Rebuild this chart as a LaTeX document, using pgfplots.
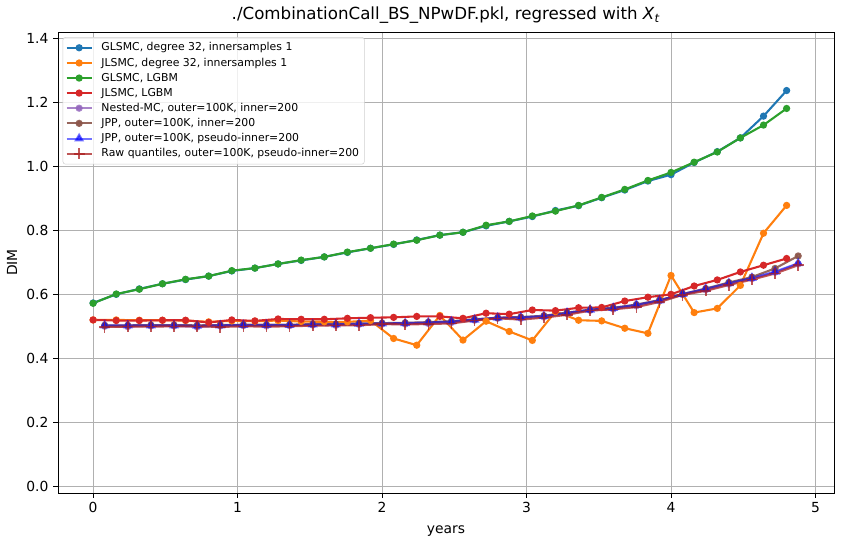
\documentclass[border=0pt]{standalone}
\usepackage{pgfplots}
\pgfplotsset{compat=1.18}
\usepackage{pgfplotstable}
\usepackage{fontspec}
\setmainfont{DejaVu Sans}
\definecolor{c0}{HTML}{1F77B4}
\definecolor{c1}{HTML}{FF7F0E}
\definecolor{c2}{HTML}{2CA02C}
\definecolor{c3}{HTML}{D62728}
\definecolor{c4}{HTML}{9467BD}
\definecolor{c5}{HTML}{8C564B}
\definecolor{gridc}{HTML}{B0B0B0}

\pgfplotstableread{
x y
0.00 0.572
0.16 0.599
0.32 0.616
0.48 0.632
0.64 0.645
0.80 0.656
0.96 0.672
1.12 0.681
1.28 0.694
1.44 0.705
1.60 0.716
1.76 0.730
1.92 0.743
2.08 0.755
2.24 0.769
2.40 0.784
2.56 0.793
2.72 0.813
2.88 0.827
3.04 0.842
3.20 0.861
3.36 0.876
3.52 0.901
3.68 0.925
3.84 0.953
4.00 0.973
4.16 1.011
4.32 1.045
4.48 1.088
4.64 1.156
4.80 1.236
}\glsmcpoly

\pgfplotstableread{
x y
0.00 0.571
0.16 0.600
0.32 0.615
0.48 0.632
0.64 0.646
0.80 0.656
0.96 0.673
1.12 0.681
1.28 0.694
1.44 0.706
1.60 0.716
1.76 0.731
1.92 0.743
2.08 0.756
2.24 0.768
2.40 0.784
2.56 0.793
2.72 0.815
2.88 0.827
3.04 0.844
3.20 0.859
3.36 0.877
3.52 0.902
3.68 0.927
3.84 0.955
4.00 0.980
4.16 1.012
4.32 1.044
4.48 1.088
4.64 1.128
4.80 1.180
}\glsmclgbm

\pgfplotstableread{
x y
0.00 0.519
0.16 0.519
0.32 0.518
0.48 0.518
0.64 0.517
0.80 0.513
0.96 0.516
1.12 0.515
1.28 0.517
1.44 0.514
1.60 0.513
1.76 0.513
1.92 0.517
2.08 0.461
2.24 0.440
2.40 0.533
2.56 0.456
2.72 0.515
2.88 0.483
3.04 0.455
3.20 0.545
3.36 0.518
3.52 0.516
3.68 0.493
3.84 0.477
4.00 0.658
4.16 0.542
4.32 0.555
4.48 0.627
4.64 0.790
4.80 0.877
}\jlsmcpoly

\pgfplotstableread{
x y
0.00 0.519
0.16 0.517
0.32 0.517
0.48 0.518
0.64 0.518
0.80 0.511
0.96 0.519
1.12 0.516
1.28 0.522
1.44 0.521
1.60 0.521
1.76 0.524
1.92 0.526
2.08 0.527
2.24 0.530
2.40 0.530
2.56 0.524
2.72 0.540
2.88 0.537
3.04 0.550
3.20 0.548
3.36 0.557
3.52 0.558
3.68 0.578
3.84 0.590
4.00 0.599
4.16 0.625
4.32 0.644
4.48 0.669
4.64 0.690
4.80 0.711
}\jlsmclgbm

\pgfplotstableread{
x y
0.08 0.499
0.24 0.498
0.40 0.500
0.56 0.500
0.72 0.497
0.88 0.500
1.04 0.501
1.20 0.500
1.36 0.501
1.52 0.503
1.68 0.502
1.84 0.505
2.00 0.506
2.16 0.506
2.32 0.508
2.48 0.511
2.64 0.518
2.80 0.524
2.96 0.524
3.12 0.528
3.28 0.539
3.44 0.549
3.60 0.553
3.76 0.563
3.92 0.578
4.08 0.598
4.24 0.613
4.40 0.631
4.56 0.648
4.72 0.668
4.88 0.694
}\nested

\pgfplotstableread{
x y
0.08 0.502
0.24 0.502
0.40 0.503
0.56 0.503
0.72 0.502
0.88 0.503
1.04 0.504
1.20 0.504
1.36 0.504
1.52 0.506
1.68 0.506
1.84 0.508
2.00 0.509
2.16 0.510
2.32 0.512
2.48 0.515
2.64 0.521
2.80 0.526
2.96 0.528
3.12 0.532
3.28 0.542
3.44 0.551
3.60 0.557
3.76 0.567
3.92 0.581
4.08 0.600
4.24 0.617
4.40 0.636
4.56 0.653
4.72 0.680
4.88 0.719
}\jpp

\pgfplotstableread{
x y
0.08 0.502
0.24 0.502
0.40 0.502
0.56 0.502
0.72 0.501
0.88 0.502
1.04 0.503
1.20 0.503
1.36 0.503
1.52 0.505
1.68 0.505
1.84 0.507
2.00 0.508
2.16 0.509
2.32 0.511
2.48 0.514
2.64 0.520
2.80 0.526
2.96 0.527
3.12 0.531
3.28 0.541
3.44 0.551
3.60 0.556
3.76 0.566
3.92 0.580
4.08 0.600
4.24 0.616
4.40 0.634
4.56 0.650
4.72 0.670
4.88 0.696
}\jpppseudo

\pgfplotstableread{
x y
0.08 0.497
0.24 0.498
0.40 0.498
0.56 0.499
0.72 0.499
0.88 0.497
1.04 0.499
1.20 0.498
1.36 0.499
1.52 0.501
1.68 0.502
1.84 0.502
2.00 0.506
2.16 0.505
2.32 0.506
2.48 0.508
2.64 0.517
2.80 0.524
2.96 0.520
3.12 0.526
3.28 0.535
3.44 0.548
3.60 0.552
3.76 0.559
3.92 0.575
4.08 0.597
4.24 0.610
4.40 0.628
4.56 0.645
4.72 0.664
4.88 0.690
}\rawq

\begin{document}
\begin{tikzpicture}
\useasboundingbox (-43.5pt,-36.75pt) rectangle (590.25pt,369.75pt);
\begin{axis}[
  at={(0pt,0pt)}, anchor=south west,
  scale only axis,
  width=582pt, height=345.75pt,
  xmin=-0.243, xmax=5.128,
  ymin=-0.022, ymax=1.419,
  xtick={0,1,2,3,4,5},
  ytick={0,0.2,0.4,0.6,0.8,1.0,1.2,1.4},
  yticklabel style={/pgf/number format/.cd,fixed,fixed zerofill,precision=1},
  /pgf/number format/assume math mode=true,
  ticklabel style={font=\fontsize{10.4}{12}\selectfont},
  xtick pos=left, ytick pos=left,
  tick align=outside,
  major tick length=3.65pt,
  tick style={black, line width=0.6pt},
  grid=major,
  grid style={gridc, line width=0.6pt},
  axis line style={line width=0.6pt},
  xlabel={years}, ylabel={DIM},
  label style={font=\fontsize{10.4}{12}\selectfont},
  xlabel style={yshift=-2.5pt},
  ylabel style={yshift=0pt},
  title={./CombinationCall\_BS\_NPwDF.pkl, regressed with \textit{X}\textsubscript{\textit{t}}},
  title style={font=\fontsize{12.5}{14}\selectfont, yshift=-3pt},
  legend style={font=\fontsize{8.15}{9.7}\selectfont, draw=gridc!60, rounded corners=2pt,
    fill=white, fill opacity=0.8, text opacity=1, inner sep=2pt, row sep=-0.3pt,
    at={(0.006,0.989)}, anchor=north west},
  legend cell align=left,
  legend image code/.code={
    \draw[mark repeat=2,mark phase=2] plot coordinates {(0cm,0cm) (0.33cm,0cm) (0.66cm,0cm)};
    \path (0.82cm,0cm);
  },
  every axis plot/.append style={line width=1.56pt},
]
\addplot[c0, mark=*, mark size=1.9pt] table {\glsmcpoly};
\addlegendentry{GLSMC, degree 32, innersamples 1}
\addplot[c1, mark=*, mark size=1.9pt] table {\jlsmcpoly};
\addlegendentry{JLSMC, degree 32, innersamples 1}
\addplot[c2, mark=*, mark size=1.9pt] table {\glsmclgbm};
\addlegendentry{GLSMC, LGBM}
\addplot[c3, mark=*, mark size=1.9pt] table {\jlsmclgbm};
\addlegendentry{JLSMC, LGBM}
\addplot[c4, opacity=0.8, mark=*, mark size=1.9pt] table {\nested};
\addlegendentry{Nested-MC, outer=100K, inner=200}
\addplot[c5, opacity=0.9, mark=*, mark size=1.9pt] table {\jpp};
\addlegendentry{JPP, outer=100K, inner=200}
\addplot[blue, opacity=0.55, mark=triangle*, mark size=2.8pt] table {\jpppseudo};
\addlegendentry{JPP, outer=100K, pseudo-inner=200}
\addplot[c3!80!black, opacity=0.75, mark=+, mark size=4.2pt, mark options={line width=1.2pt}] table {\rawq};
\addlegendentry{Raw quantiles, outer=100K, pseudo-inner=200}
\end{axis}
\end{tikzpicture}
\end{document}
